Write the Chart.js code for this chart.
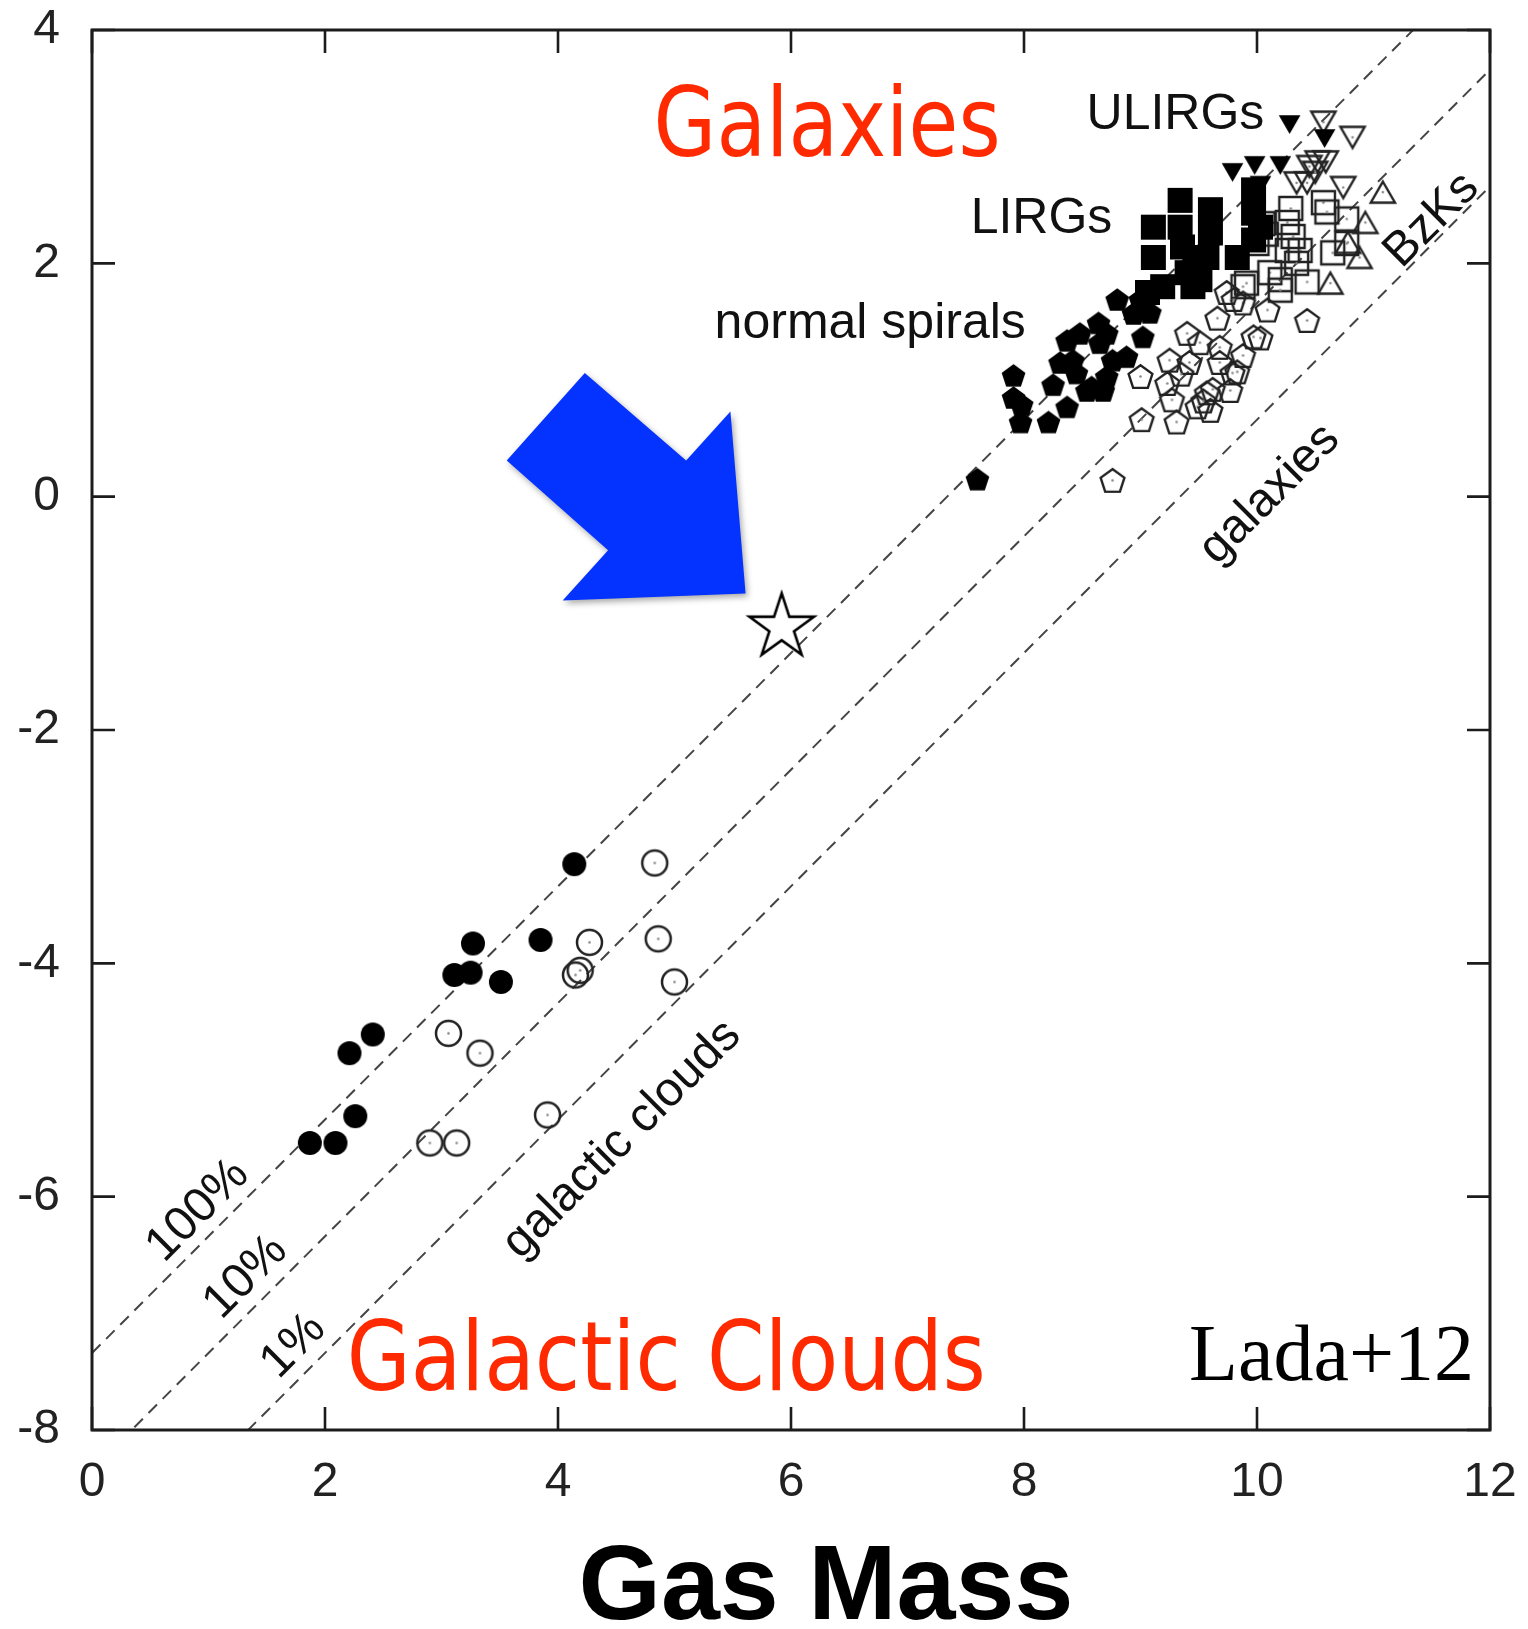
<!DOCTYPE html>
<html><head><meta charset="utf-8">
<script src="https://cdn.jsdelivr.net/npm/chart.js@4.4.1/dist/chart.umd.min.js"></script>
<style>html,body{margin:0;padding:0;background:#fff;}#wrap{width:1528px;height:1629px;}</style>
</head><body><div id="wrap"><canvas id="c" width="1528" height="1629"></canvas></div>
<script>
// ---- axis ticks ----
const xTickValues = [0, 2, 4, 6, 8, 10, 12];
const yTickValues = [-8, -6, -4, -2, 0, 2, 4];

// ---- galactic clouds ----
const cloudsFilledX = [4.14, 3.27, 3.85, 3.11, 3.25, 3.51, 2.41, 2.21, 2.26, 1.87, 2.09];
const cloudsFilledY = [-3.15, -3.83, -3.80, -4.10, -4.08, -4.16, -4.61, -4.77, -5.31, -5.54, -5.54];
const cloudsOpenX = [4.83, 4.27, 4.86, 4.15, 4.19, 5.00, 3.06, 3.33, 3.91, 2.90, 3.13];
const cloudsOpenY = [-3.14, -3.82, -3.79, -4.10, -4.06, -4.16, -4.60, -4.77, -5.30, -5.54, -5.54];

// ---- normal spirals ----
const spiralFilledX = [7.60, 7.91, 7.91, 7.98, 7.97, 8.21, 8.25, 8.37, 8.31, 8.37, 8.48, 8.42, 8.58, 8.71, 8.64, 8.65, 8.80, 8.88, 9.00, 9.02, 8.76, 8.71, 9.08, 8.54, 8.45, 8.68, 8.94];
const spiralFilledY = [0.15, 1.04, 0.85, 0.79, 0.64, 0.64, 0.96, 0.77, 1.15, 1.34, 1.40, 1.17, 0.94, 1.03, 1.49, 1.32, 1.69, 1.20, 1.69, 1.37, 1.17, 1.40, 1.58, 0.91, 1.06, 0.91, 1.57];
const spiralOpenX = [9.00, 9.01, 9.31, 9.25, 9.23, 9.27, 9.40, 9.42, 9.51, 9.49, 9.57, 9.60, 9.66, 9.68, 9.68, 9.74, 9.79, 9.83, 9.88, 9.88, 9.97, 10.03, 10.09, 10.43, 9.77, 9.62, 8.76, 9.54, 9.80, 9.35];
const spiralOpenY = [1.03, 0.66, 0.64, 1.17, 0.97, 0.83, 1.40, 1.15, 1.32, 0.77, 0.89, 0.74, 1.53, 1.28, 1.15, 1.75, 1.06, 1.07, 1.21, 1.66, 1.37, 1.36, 1.60, 1.51, 0.91, 0.92, 0.14, 0.82, 1.69, 1.05];

// ---- LIRGs ----
const lirgFilledX = [9.11, 9.11, 9.34, 9.34, 9.36, 9.40, 9.60, 9.60, 9.57, 9.51, 9.83, 9.97, 9.97, 10.03, 9.97, 9.19, 9.06, 9.47, 9.45];
const lirgFilledY = [2.31, 2.05, 2.54, 2.31, 2.14, 1.92, 2.46, 2.26, 2.05, 1.86, 2.05, 2.63, 2.43, 2.31, 2.20, 1.80, 1.75, 1.99, 1.80];
const lirgOpenX = [10.57, 10.60, 10.77, 10.26, 10.31, 10.26, 10.37, 10.65, 10.77, 10.00, 10.11, 10.20, 10.43, 9.91, 10.34, 10.20, 9.88, 10.08, 10.29, 10.05];
const lirgOpenY = [2.52, 2.44, 2.38, 2.35, 2.23, 2.11, 2.11, 2.09, 2.17, 2.17, 1.92, 1.86, 1.84, 1.83, 2.00, 1.77, 1.80, 2.25, 2.47, 2.34];

// ---- ULIRGs ----
const ulirgFilledX = [10.28, 10.58, 9.79, 9.98, 10.20, 10.03];
const ulirgFilledY = [3.19, 3.07, 2.78, 2.84, 2.84, 2.67];
const ulirgOpenX = [10.57, 10.82, 10.52, 10.59, 10.45, 10.34, 10.43, 10.74, 10.50];
const ulirgOpenY = [3.21, 3.08, 2.87, 2.87, 2.83, 2.69, 2.69, 2.65, 2.78];

// ---- BzKs ----
const bzkX = [11.08, 10.93, 10.88, 10.63, 10.78];
const bzkY = [2.61, 2.35, 2.05, 1.83, 2.18];

// ---- highlighted object ----
const starX = [5.92];
const starY = [-1.09];

// ---- efficiency lines (100%, 10%, 1%) endpoints ----
const line100X = [0, 12], line100Y = [-7.34, 4.66];
const line10X = [0, 12],  line10Y = [-8.34, 3.66];
const line1X = [0, 12],   line1Y = [-9.34, 2.66];

// ---- arrow outline (data coordinates) ----
const arrowX = [4.23, 5.10, 5.48, 5.61, 4.04, 4.43, 3.56];
const arrowY = [1.06, 0.31, 0.73, -0.83, -0.89, -0.46, 0.31];

function zip(xs, ys) { return xs.map((x, i) => ({ x: x, y: ys[i] })); }

function marker(shape, filled, r, lw) {
  const pad = Math.ceil(lw || 1) + 3;
  const s = Math.ceil(2 * (r + pad));
  const c = document.createElement('canvas');
  c.width = s; c.height = s;
  const g = c.getContext('2d');
  const cx = s / 2, cy = s / 2;
  g.beginPath();
  if (shape === 'circle') {
    g.arc(cx, cy, r, 0, Math.PI * 2);
  } else if (shape === 'square') {
    g.rect(cx - r, cy - r, 2 * r, 2 * r);
  } else if (shape === 'pentagon') {
    for (let k = 0; k < 5; k++) {
      const a = -Math.PI / 2 + k * 2 * Math.PI / 5;
      const px = cx + r * Math.cos(a), py = cy + r * Math.sin(a) + r * 0.1;
      k ? g.lineTo(px, py) : g.moveTo(px, py);
    }
  } else if (shape === 'tri' || shape === 'tridown') {
    const base = shape === 'tri' ? -Math.PI / 2 : Math.PI / 2;
    const off = shape === 'tri' ? r * 0.25 : -r * 0.25;
    for (let k = 0; k < 3; k++) {
      const a = base + k * 2 * Math.PI / 3;
      const px = cx + r * Math.cos(a), py = cy + r * Math.sin(a) + off;
      k ? g.lineTo(px, py) : g.moveTo(px, py);
    }
  } else if (shape === 'star') {
    for (let k = 0; k < 10; k++) {
      const a = -Math.PI / 2 + k * Math.PI / 5;
      const rr = k % 2 ? r * 0.382 : r;
      const px = cx + rr * Math.cos(a), py = cy + rr * Math.sin(a) + r * 0.1;
      k ? g.lineTo(px, py) : g.moveTo(px, py);
    }
  }
  g.closePath();
  if (shape === 'star') {
    g.fillStyle = '#fff'; g.fill();
    g.lineWidth = lw; g.strokeStyle = '#000'; g.lineJoin = 'miter'; g.stroke();
  } else if (filled) {
    g.fillStyle = '#000'; g.fill();
  } else {
    g.lineWidth = lw; g.strokeStyle = '#222'; g.stroke();
    g.beginPath(); g.arc(cx, cy, 1.3, 0, Math.PI * 2); g.fillStyle = '#888'; g.fill();
  }
  return c;
}

function scatterSet(label, xs, ys, style, order) {
  return { type: 'scatter', label: label, data: zip(xs, ys), pointStyle: style, pointRadius: 10, pointHoverRadius: 10, order: order };
}
function lineSet(label, xs, ys) {
  return { type: 'line', label: label, data: zip(xs, ys), borderColor: '#444', borderWidth: 2,
    borderDash: [12, 8], pointRadius: 0, fill: false, tension: 0, order: 20 };
}

const datasets = [
  lineSet('100%', line100X, line100Y),
  lineSet('10%', line10X, line10Y),
  lineSet('1%', line1X, line1Y),
  scatterSet('clouds (open)', cloudsOpenX, cloudsOpenY, marker('circle', false, 12.5, 2.5), 5),
  scatterSet('clouds', cloudsFilledX, cloudsFilledY, marker('circle', true, 12), 4),
  scatterSet('spirals (open)', spiralOpenX, spiralOpenY, marker('pentagon', false, 12.5, 2.4), 5),
  scatterSet('spirals', spiralFilledX, spiralFilledY, marker('pentagon', true, 12.5), 4),
  scatterSet('LIRGs (open)', lirgOpenX, lirgOpenY, marker('square', false, 11.5, 2.4), 5),
  scatterSet('LIRGs', lirgFilledX, lirgFilledY, marker('square', true, 12.5), 4),
  scatterSet('ULIRGs (open)', ulirgOpenX, ulirgOpenY, marker('tridown', false, 14, 2.4), 5),
  scatterSet('ULIRGs', ulirgFilledX, ulirgFilledY, marker('tridown', true, 12.5), 4),
  scatterSet('BzKs', bzkX, bzkY, marker('tri', false, 14, 2.4), 5),
  scatterSet('star', starX, starY, marker('star', false, 34, 2.6), 1)
];

function drawText(ctx, s, px, py, font, color, angle, targetW) {
  ctx.save();
  ctx.translate(px, py);
  ctx.rotate(angle || 0);
  ctx.font = font;
  ctx.fillStyle = color;
  ctx.textAlign = 'center';
  ctx.textBaseline = 'middle';
  if (targetW) { const w = ctx.measureText(s).width; ctx.scale(targetW / w, 1); }
  ctx.fillText(s, 0, 0);
  ctx.restore();
}

const decor = {
  id: 'decor',
  afterDatasetsDraw(chart) {
    const ctx = chart.ctx, a = chart.chartArea, xs = chart.scales.x, ys = chart.scales.y;
    ctx.save();
    ctx.strokeStyle = '#1c1c1c';
    ctx.lineWidth = 3;
    ctx.strokeRect(a.left, a.top, a.right - a.left, a.bottom - a.top);
    ctx.lineWidth = 2.6;
    const tl = 23;
    ctx.beginPath();
    xs.ticks.forEach(t => {
      const px = xs.getPixelForValue(t.value);
      ctx.moveTo(px, a.bottom); ctx.lineTo(px, a.bottom - tl);
      ctx.moveTo(px, a.top); ctx.lineTo(px, a.top + tl);
    });
    ys.ticks.forEach(t => {
      const py = ys.getPixelForValue(t.value);
      ctx.moveTo(a.left, py); ctx.lineTo(a.left + tl, py);
      ctx.moveTo(a.right, py); ctx.lineTo(a.right - tl, py);
    });
    ctx.stroke();

    ctx.beginPath();
    arrowX.forEach((vx, i) => {
      const px = xs.getPixelForValue(vx), py = ys.getPixelForValue(arrowY[i]);
      i ? ctx.lineTo(px, py) : ctx.moveTo(px, py);
    });
    ctx.closePath();
    ctx.shadowColor = 'rgba(0,0,0,0.35)';
    ctx.shadowBlur = 6; ctx.shadowOffsetX = 2; ctx.shadowOffsetY = 3;
    ctx.fillStyle = '#0433FF';
    ctx.fill();
    ctx.restore();

    const ang = Math.atan2(ys.getPixelForValue(line100Y[1]) - ys.getPixelForValue(line100Y[0]),
                           xs.getPixelForValue(line100X[1]) - xs.getPixelForValue(line100X[0]));
    const P = (vx, vy) => [xs.getPixelForValue(vx), ys.getPixelForValue(vy)];
    const sans = '"Liberation Sans", Arial, Helvetica, sans-serif';
    const rf = '48px ' + sans;
    let p;
    p = P(0.91, -6.12); drawText(ctx, '100%', p[0], p[1], rf, '#111', ang);
    p = P(1.32, -6.69); drawText(ctx, '10%', p[0], p[1], rf, '#111', ang);
    p = P(1.73, -7.28); drawText(ctx, '1%', p[0], p[1], rf, '#111', ang);
    p = P(4.55, -5.51); drawText(ctx, 'galactic clouds', p[0], p[1], rf, '#111', ang);
    p = P(10.11, 0.02); drawText(ctx, 'galaxies', p[0], p[1], rf, '#111', ang);
    p = P(11.50, 2.37); drawText(ctx, 'BzKs', p[0], p[1], rf, '#111', ang);

    const hf = '50px ' + sans;
    p = P(9.30, 3.27); drawText(ctx, 'ULIRGs', p[0], p[1], hf, '#111', 0);
    p = P(8.15, 2.38); drawText(ctx, 'LIRGs', p[0], p[1], hf, '#111', 0);
    p = P(6.68, 1.48); drawText(ctx, 'normal spirals', p[0], p[1], hf, '#111', 0);

    const redF = '96px "DejaVu Sans", Verdana, sans-serif';
    p = P(6.31, 3.13); drawText(ctx, 'Galaxies', p[0], p[1], redF, '#FF2A00', 0, 347);
    p = P(4.93, -7.44); drawText(ctx, 'Galactic Clouds', p[0], p[1], redF, '#FF2A00', 0, 639);

    p = P(10.64, -7.39); drawText(ctx, 'Lada+12', p[0], p[1], '80px "Liberation Serif", "Times New Roman", serif', '#000', 0);
  },
  afterDraw(chart) {
    const ctx = chart.ctx, a = chart.chartArea, xs = chart.scales.x;
    drawText(ctx, 'Gas Mass', xs.getPixelForValue(6.30), a.bottom + 160,
      'bold 106px "Liberation Sans", Arial, sans-serif', '#000', 0);
  }
};

const tickFont = { family: '"Liberation Sans", Arial, Helvetica, sans-serif', size: 48 };

new Chart(document.getElementById('c'), {
  data: { datasets: datasets },
  options: {
    responsive: false,
    devicePixelRatio: 1,
    animation: false,
    events: [],
    layout: { padding: { top: 30, right: 38, left: 0, bottom: 0 } },
    plugins: { legend: { display: false }, tooltip: { enabled: false }, title: { display: false } },
    scales: {
      x: {
        type: 'linear', min: 0, max: 12,
        afterBuildTicks: s => { s.ticks = xTickValues.map(v => ({ value: v })); },
        afterFit: s => { s.height = 199; s.paddingLeft = 0; s.paddingRight = 0; },
        grid: { display: false, drawTicks: false },
        border: { display: false },
        ticks: { font: tickFont, color: '#222', padding: 24, maxRotation: 0, autoSkip: false }
      },
      y: {
        type: 'linear', min: -8, max: 4,
        afterBuildTicks: s => { s.ticks = yTickValues.map(v => ({ value: v })); },
        afterFit: s => { s.width = 92; s.paddingTop = 0; s.paddingBottom = 0; },
        grid: { display: false, drawTicks: false },
        border: { display: false },
        ticks: { font: tickFont, color: '#222', padding: 32, autoSkip: false }
      }
    }
  },
  plugins: [decor]
});
</script></body></html>
